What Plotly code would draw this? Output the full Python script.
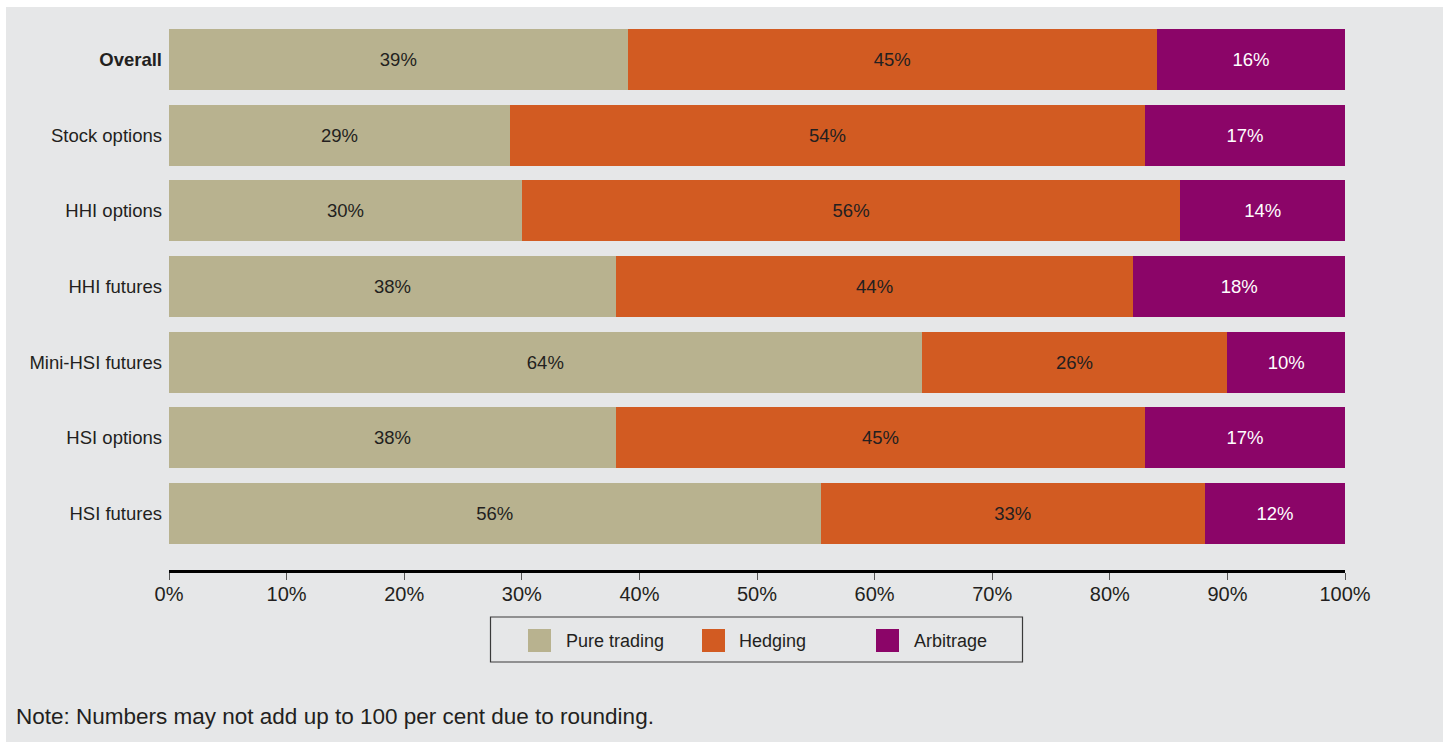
import plotly.graph_objects as go

categories = ["Overall", "Stock options", "HHI options", "HHI futures",
              "Mini-HSI futures", "HSI options", "HSI futures"]
pure_trading = [39, 29, 30, 38, 64, 38, 55.4]
hedging = [45, 54, 56, 44, 26, 45, 32.7]
arbitrage = [16, 17, 14, 18, 10, 17, 11.9]
pure_labels = ["39%", "29%", "30%", "38%", "64%", "38%", "56%"]
hedging_labels = ["45%", "54%", "56%", "44%", "26%", "45%", "33%"]
arbitrage_labels = ["16%", "17%", "14%", "18%", "10%", "17%", "12%"]
tick_vals = [0, 10, 20, 30, 40, 50, 60, 70, 80, 90, 100]
tick_text = ["0%", "10%", "20%", "30%", "40%", "50%", "60%", "70%", "80%", "90%", "100%"]
series_names = ["Pure trading", "Hedging", "Arbitrage"]
note = "Note: Numbers may not add up to 100 per cent due to rounding."

COLORS = ["#B8B28F", "#D25B22", "#8B0568"]
TEXT_COLORS = ["#231F20", "#231F20", "#FFFFFF"]
FONT = "Liberation Sans, Arial, sans-serif"

fig = go.Figure()
for name, vals, labels, col, tcol in zip(series_names,
                                         [pure_trading, hedging, arbitrage],
                                         [pure_labels, hedging_labels, arbitrage_labels],
                                         COLORS, TEXT_COLORS):
    fig.add_trace(go.Bar(
        y=categories, x=vals, orientation="h", name=name,
        marker=dict(color=col, line=dict(width=0)),
        text=labels, textposition="inside", insidetextanchor="middle",
        textfont=dict(family=FONT, size=18.5, color=tcol),
        constraintext="none", width=0.806, showlegend=False,
        hoverinfo="skip",
    ))

W, H = 1446, 742
L, R, T, B = 169, 1345, 20, 570
pw, ph = R - L, B - T

def px_x(x):
    return (x - L) / pw

def px_y(y):
    return (B - y) / ph

shapes = [
    dict(type="rect", xref="paper", yref="paper", layer="below",
         x0=px_x(6), x1=px_x(1443), y0=px_y(742), y1=px_y(7),
         fillcolor="#E6E7E8", line=dict(width=0)),
    dict(type="rect", xref="paper", yref="paper",
         x0=px_x(490.5), x1=px_x(1022.5), y0=px_y(662), y1=px_y(617),
         fillcolor="rgba(0,0,0,0)", line=dict(color="#3A3A3A", width=1.2)),
]
annotations = []
legend_items = [(528, 564), (702, 737), (876, 912)]
for (sx, tx), name, col in zip(legend_items, series_names, COLORS):
    shapes.append(dict(type="rect", xref="paper", yref="paper",
                       x0=px_x(sx), x1=px_x(sx + 23), y0=px_y(652), y1=px_y(629),
                       fillcolor=col, line=dict(width=0)))
    annotations.append(dict(xref="paper", yref="paper", x=px_x(tx), y=px_y(641),
                            xanchor="left", yanchor="middle", showarrow=False,
                            text=name, font=dict(family=FONT, size=18, color="#231F20")))
annotations.append(dict(xref="paper", yref="paper", x=px_x(14), y=px_y(716),
                        xanchor="left", yanchor="middle", showarrow=False,
                        text=note, font=dict(family=FONT, size=22.5, color="#231F20")))

ticktext_y = ["<b>Overall</b>"] + categories[1:]

fig.update_layout(
    width=W, height=H, barmode="stack", bargap=0.2,
    margin=dict(l=L, r=W - R, t=T, b=H - B, pad=0),
    paper_bgcolor="#FFFFFF", plot_bgcolor="#E6E7E8",
    font=dict(family=FONT, size=18, color="#231F20"),
    xaxis=dict(range=[0, 100], tickmode="array", tickvals=tick_vals, ticktext=tick_text,
               showgrid=False, zeroline=False, showline=True, linecolor="#000000",
               linewidth=2.5, ticks="outside", ticklen=7, tickwidth=1.2,
               tickcolor="#555555", ticklabelstandoff=-3,
               tickfont=dict(family=FONT, size=20, color="#231F20"),
               fixedrange=True),
    yaxis=dict(range=[6.747, -0.522], tickmode="array", tickvals=categories,
               ticktext=ticktext_y, showgrid=False, zeroline=False, showline=False,
               ticks="", ticklabelstandoff=6,
               tickfont=dict(family=FONT, size=18.5, color="#231F20"), fixedrange=True),
    shapes=shapes, annotations=annotations, showlegend=False,
)

fig.write_html("out.html")
